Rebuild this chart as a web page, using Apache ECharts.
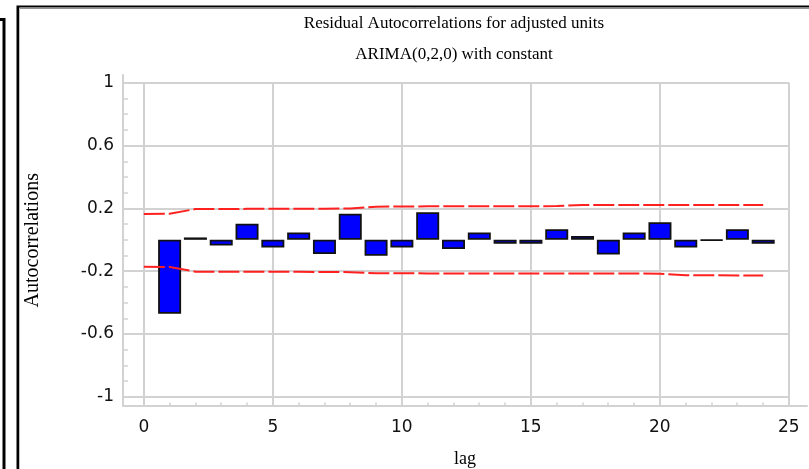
<!DOCTYPE html>
<html>
<head>
<meta charset="utf-8">
<script src="https://cdn.jsdelivr.net/npm/echarts@6/dist/echarts.min.js"></script>
<style>
html,body{margin:0;padding:0;background:#fff;}
#chart{width:809px;height:469px;}
</style>
</head>
<body>
<div id="chart"></div>
<script>
// ---- data ----
const titleLine1 = "Residual Autocorrelations for adjusted units";
const titleLine2 = "ARIMA(0,2,0) with constant";
const xAxisTitle = "lag";
const yAxisTitle = "Autocorrelations";

const lags = [1,2,3,4,5,6,7,8,9,10,11,12,13,14,15,16,17,18,19,20,21,22,23,24];
const acf  = [-0.471,0.015,-0.036,0.102,-0.049,0.047,-0.091,0.166,-0.102,-0.049,0.176,-0.059,
              0.047,-0.025,-0.025,0.067,0.025,-0.094,0.047,0.112,-0.049,-0.004,0.067,-0.025];

const limitLags = [0,1,2,3,4,5,6,7,8,9,10,11,12,13,14,15,16,17,18,19,20,21,22,23,24];
const upperLimit = [0.164,0.166,0.196,0.196,0.197,0.197,0.197,0.198,0.199,0.211,0.212,0.213,0.213,
                    0.214,0.214,0.214,0.215,0.221,0.221,0.221,0.222,0.222,0.222,0.222,0.222];
const lowerLimit = [-0.172,-0.173,-0.203,-0.203,-0.204,-0.204,-0.204,-0.205,-0.206,-0.213,-0.213,-0.214,-0.214,
                    -0.214,-0.214,-0.214,-0.215,-0.215,-0.215,-0.215,-0.216,-0.226,-0.226,-0.227,-0.227];

const xTickLabels = [0,5,10,15,20,25];
const yTickLabels = [-1,-0.6,-0.2,0.2,0.6,1];
const xMinorTicks = [0,1,2,3,4,5,6,7,8,9,10,11,12,13,14,15,16,17,18,19,20,21,22,23,24,25];
const yMinorTicks = [-1,-0.9,-0.8,-0.7,-0.6,-0.5,-0.4,-0.3,-0.2,-0.1,0,0.1,0.2,0.3,0.4,0.5,0.6,0.7,0.8,0.9,1];

// ---- chart ----
const GRAY = '#d2d2d2';
const chart = echarts.init(document.getElementById('chart'), null, {renderer:'canvas'});
const option = {
  animation: false,
  backgroundColor: '#ffffff',
  title: [
    { text: titleLine1, left: 454, top: 15, textAlign: 'center', padding: 0,
      textStyle: { fontFamily: 'Liberation Serif', fontSize: 17, fontWeight: 'normal', color: '#000' } },
    { text: titleLine2, left: 454, top: 46, textAlign: 'center', padding: 0,
      textStyle: { fontFamily: 'Liberation Serif', fontSize: 17, fontWeight: 'normal', color: '#000' } }
  ],
  grid: [
    { left: 123, top: 75, width: 684, height: 330.5, containLabel: false, outerBoundsMode: 'none' },
    { left: 123, top: 82.8, width: 666, height: 322.7, containLabel: false, outerBoundsMode: 'none' }
  ],
  xAxis: [
    { type: 'value', gridIndex: 0, min: -0.806, max: 25.705,
      axisLine: { show: true, onZero: false, lineStyle: { color: GRAY, width: 2 } },
      axisTick: { show: true, inside: true, length: 3, customValues: xMinorTicks, lineStyle: { color: GRAY, width: 1.5 } },
      axisLabel: { show: true, customValues: xTickLabels, margin: 14, fontFamily: 'DejaVu Sans', fontSize: 17, color: '#111' },
      splitLine: { show: false },
      name: xAxisTitle, nameLocation: 'middle', nameGap: 45, nameMoveOverlap: false,
      nameTextStyle: { fontFamily: 'Liberation Serif', fontSize: 18, color: '#000' } },
    { type: 'value', gridIndex: 1, min: -0.806, max: 25,
      axisLine: { show: false, onZero: false },
      axisTick: { show: false, customValues: xTickLabels },
      axisLabel: { show: false },
      splitLine: { show: true, customValues: xTickLabels, lineStyle: { color: GRAY, width: 2 } } }
  ],
  yAxis: [
    { type: 'value', gridIndex: 0, min: -1.0554, max: 1.0497,
      axisLine: { show: true, onZero: false, lineStyle: { color: GRAY, width: 2 } },
      axisTick: { show: true, inside: true, length: 5, customValues: yMinorTicks, lineStyle: { color: GRAY, width: 1.5 } },
      axisLabel: { show: true, customValues: yTickLabels, margin: 9, padding: [5, 0, 0, 0],
                   fontFamily: 'DejaVu Sans', fontSize: 17, color: '#111' },
      splitLine: { show: false },
      name: yAxisTitle, nameLocation: 'middle', nameGap: 80, nameRotate: 90, nameMoveOverlap: false,
      nameTextStyle: { fontFamily: 'Liberation Serif', fontSize: 20, color: '#000' } },
    { type: 'value', gridIndex: 1, min: -1.0554, max: 1,
      axisLine: { show: false, onZero: false },
      axisTick: { show: false, customValues: yTickLabels },
      axisLabel: { show: false },
      splitLine: { show: true, customValues: yTickLabels, lineStyle: { color: GRAY, width: 2 } } }
  ],
  series: [
    { type: 'bar', xAxisIndex: 1, yAxisIndex: 1, barWidth: 23,
      data: lags.map((l, i) => [l, acf[i]]),
      itemStyle: { color: '#0000ff', borderColor: '#111111', borderWidth: 1.8 } },
    { type: 'line', xAxisIndex: 1, yAxisIndex: 1, symbol: 'none', silent: true,
      data: limitLags.map((l, i) => [l, upperLimit[i]]),
      lineStyle: { color: '#ff2020', width: 2, type: [21, 4] } },
    { type: 'line', xAxisIndex: 1, yAxisIndex: 1, symbol: 'none', silent: true,
      data: limitLags.map((l, i) => [l, lowerLimit[i]]),
      lineStyle: { color: '#ff2020', width: 2, type: [21, 4] } }
  ],
  graphic: [
    { type: 'rect', left: -20, top: 17, silent: true,
      shape: { x: 0, y: 0, width: 21.5, height: 520 },
      style: { fill: 'none', stroke: '#000', lineWidth: 3 } },
    { type: 'rect', left: 15.5, top: 4.5, silent: true,
      shape: { x: 0, y: 0, width: 900, height: 600 },
      style: { fill: 'none', stroke: '#000', lineWidth: 3 } },
    { type: 'polyline', silent: true,
      shape: { points: [[19.5, 469], [19.5, 7.8], [809, 7.8]] },
      style: { fill: 'none', stroke: '#bdbdbd', lineWidth: 1 } }
  ]
};
chart.setOption(option);
</script>
</body>
</html>
